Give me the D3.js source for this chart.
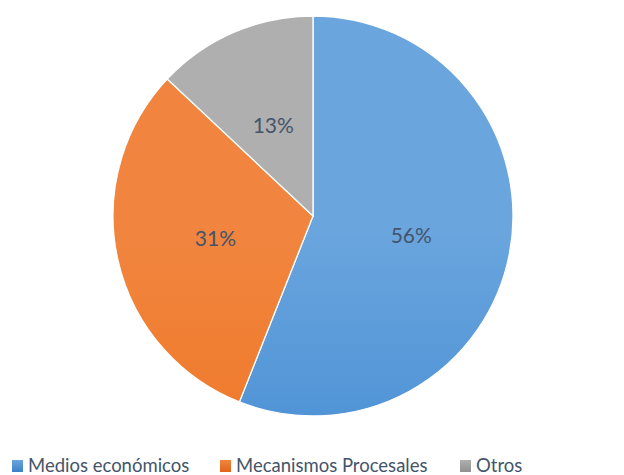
<!DOCTYPE html>
<html>
<head>
<meta charset="utf-8">
<script src="https://cdn.jsdelivr.net/npm/d3@7"></script>
<style>
  html, body { margin: 0; padding: 0; background: #fff; }
  svg { display: block; }
</style>
</head>
<body>
<svg id="chart" width="624" height="475"></svg>
<script>
const categories = ["Medios económicos", "Mecanismos Procesales", "Otros"];
const values = [56, 31, 13];
const labels = ["56%", "31%", "13%"];
const colorsTop = ["#6AA5DE", "#F1853F", "#AFAFAF"];
const colorsMid = ["#4F93D6", "#EF7A2B", "#A2A2A2"];
const colorsBottom = ["#3B80C6", "#E0641A", "#909090"];

const svg = d3.select("#chart");
const cx = 313, cy = 216, R = 200;

const defs = svg.append("defs");
categories.forEach((c, i) => {
  const g = defs.append("linearGradient")
    .attr("id", "grad" + i)
    .attr("gradientUnits", "userSpaceOnUse")
    .attr("x1", 0).attr("y1", cy - R).attr("x2", 0).attr("y2", cy + R);
  g.append("stop").attr("offset", "0%").attr("stop-color", colorsTop[i]);
  g.append("stop").attr("offset", "50%").attr("stop-color", colorsMid[i]);
  g.append("stop").attr("offset", "100%").attr("stop-color", colorsBottom[i]);
});

const pie = d3.pie().sort(null).value(d => d)(values);
const arc = d3.arc().innerRadius(0).outerRadius(R);
const labelArc = d3.arc().innerRadius(R / 2).outerRadius(R / 2);

const g = svg.append("g");
g.selectAll("path").data(pie).enter().append("path")
  .attr("d", d => arc(d))
  .attr("transform", `translate(${cx},${cy})`)
  .attr("fill", (d, i) => `url(#grad${i})`)
  .attr("stroke", "#fff")
  .attr("stroke-width", 1.3);

const fontFam = "Lato, 'Open Sans', 'Noto Sans', sans-serif";
g.selectAll("text.lbl").data(pie).enter().append("text")
  .attr("class", "lbl")
  .attr("x", d => cx + labelArc.centroid(d)[0])
  .attr("y", d => cy + labelArc.centroid(d)[1])
  .attr("text-anchor", "middle")
  .attr("dominant-baseline", "central")
  .attr("font-family", fontFam)
  .attr("font-size", 21)
  .attr("fill", "#44546A")
  .text((d, i) => labels[i]);

// Legend
const legendX = [12, 220, 460];
const leg = svg.append("g");
categories.forEach((c, i) => {
  const lg = defs.append("linearGradient")
    .attr("id", "lgrad" + i)
    .attr("x1", 0).attr("y1", 0).attr("x2", 0).attr("y2", 1);
  lg.append("stop").attr("offset", "0%").attr("stop-color", colorsTop[i]);
  lg.append("stop").attr("offset", "100%").attr("stop-color", colorsBottom[i]);
  leg.append("rect")
    .attr("x", legendX[i]).attr("y", 460)
    .attr("width", 11).attr("height", 12)
    .attr("fill", `url(#lgrad${i})`);
  leg.append("text")
    .attr("x", legendX[i] + 16).attr("y", 472)
    .attr("font-family", fontFam)
    .attr("font-size", 18.5)
    .attr("fill", "#44546A")
    .text(c);
});
</script>
</body>
</html>
